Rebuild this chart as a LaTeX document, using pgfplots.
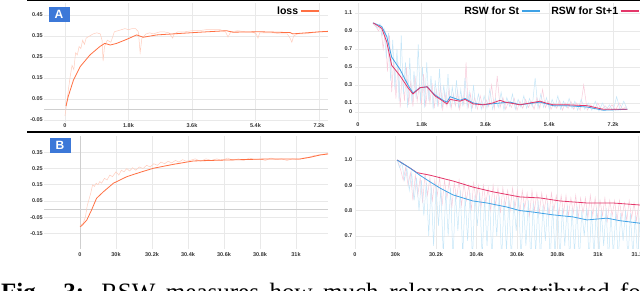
\documentclass[border=0pt]{standalone}
\usepackage{pgfplots}
\pgfplotsset{compat=1.18}
\usepackage{fontspec}
\setmainfont{Liberation Serif}
\setsansfont{Liberation Sans}
\definecolor{gridc}{HTML}{E9E9E9}
\definecolor{zeroc}{HTML}{CFCFCF}
\definecolor{tickc}{HTML}{333333}
\definecolor{orangeS}{HTML}{FF7043}
\definecolor{orangeR}{HTML}{FFCDBD}
\definecolor{blueS}{HTML}{3FA2E6}
\definecolor{blueR}{HTML}{C6E6F8}
\definecolor{redS}{HTML}{E4376A}
\definecolor{redR}{HTML}{F8CBDA}
\definecolor{badge}{HTML}{3C78D8}
\begin{document}
\begin{tikzpicture}[x=1pt,y=1pt]
\useasboundingbox (0,0) rectangle (640,291);
\pgfplotsset{
  tb/.style={scale only axis, anchor=south west,
    axis line style={draw=none}, tick style={draw=none},
    grid=major, major grid style={line width=0.6pt, color=gridc},
    ticklabel style={font=\sffamily\bfseries\fontsize{5.5}{6}\selectfont, text=tickc},
    yticklabel style={inner sep=1pt},
    xticklabel style={inner sep=1.5pt},
    legend plot pos=right,
    legend cell align=left,
    legend image code/.code={\draw[##1, line width=2.2pt] (0pt,0pt) -- (18pt,0pt);},
    legend style={draw=none, fill=none, inner sep=0pt, font=\sffamily\bfseries\fontsize{10.5}{12}\selectfont,
      nodes={inner sep=1.5pt}},
  }
}
% ---------- A ----------
\begin{axis}[tb, at={(44pt,169pt)}, width=284pt, height=119pt,
  xmin=-0.595, xmax=7.455, ymin=-0.0595, ymax=0.507,
  xtick={0,1.8,3.6,5.4,7.2}, xticklabels={0,1.8k,3.6k,5.4k,7.2k},
  ytick={-0.05,0.05,0.15,0.25,0.35,0.45}, yticklabels={-0.05,0.05,0.15,0.25,0.35,0.45},
  extra y ticks={0}, extra y tick labels={},
  extra y tick style={grid=major, major grid style={line width=1.2pt, color=zeroc}},
  legend style={at={(0.972,0.985)}, anchor=north east}]
\addplot[orangeR, line width=0.5pt, forget plot] coordinates {
(0.0,-0.03)(0.05,0.03)(0.1,0.10)(0.15,0.16)(0.2,0.21)(0.25,0.19)(0.3,0.27)(0.35,0.26)(0.4,0.30)(0.45,0.29)(0.5,0.33)(0.55,0.31)(0.6,0.34)(0.7,0.35)(0.8,0.36)(0.9,0.365)(1.0,0.36)(1.05,0.33)(1.08,0.23)(1.12,0.30)(1.2,0.33)(1.3,0.32)(1.4,0.37)(1.5,0.375)(1.6,0.38)(1.7,0.385)(1.8,0.38)(1.9,0.385)(2.0,0.385)(2.08,0.37)(2.13,0.27)(2.18,0.34)(2.3,0.36)(2.4,0.365)(2.5,0.36)(2.6,0.365)(2.7,0.37)(2.8,0.37)(2.95,0.365)(3.05,0.34)(3.1,0.36)(3.2,0.37)(3.4,0.37)(3.6,0.375)(3.8,0.375)(4.0,0.38)(4.2,0.38)(4.4,0.38)(4.55,0.37)(4.62,0.345)(4.7,0.37)(4.9,0.375)(5.1,0.37)(5.3,0.37)(5.42,0.36)(5.47,0.34)(5.52,0.365)(5.7,0.365)(5.9,0.365)(6.1,0.36)(6.3,0.36)(6.38,0.34)(6.43,0.32)(6.48,0.35)(6.6,0.36)(6.8,0.36)(7.0,0.365)(7.2,0.37)(7.45,0.37)};
\addplot[orangeS, line width=0.8pt] coordinates {
(0.03,0.017)(0.09,0.061)(0.24,0.14)(0.43,0.204)(0.71,0.26)(0.99,0.30)(1.13,0.315)(1.28,0.307)(1.47,0.315)(1.75,0.334)(2.03,0.355)(2.22,0.344)(2.60,0.355)(3.35,0.363)(3.83,0.368)(4.58,0.375)(4.76,0.368)(5.53,0.37)(6.38,0.366)(6.46,0.36)(7.23,0.37)(7.45,0.372)};
\addlegendentry{loss}
\end{axis}
% ---------- top right ----------
\begin{axis}[tb, at={(355pt,170pt)}, width=285pt, height=118pt,
  xmin=-0.085, xmax=7.96, ymin=-0.1, ymax=1.211,
  xtick={0,1.8,3.6,5.4,7.2}, xticklabels={0,1.8k,3.6k,5.4k,7.2k},
  ytick={0,0.1,0.3,0.5,0.7,0.9,1.1}, yticklabels={0,0.1,0.3,0.5,0.7,0.9,1.1},
  yticklabel style={inner sep=2.5pt},
  legend columns=2,
  legend style={at={(1,0.985)}, anchor=north east, /tikz/every even column/.append style={column sep=9pt}}]
\addplot[redR, line width=0.5pt, forget plot] coordinates {
(0.42,0.98)(0.50,0.95)(0.58,0.90)(0.64,0.96)(0.71,0.70)(0.77,0.90)(0.83,0.45)(0.89,0.85)(0.95,0.22)(1.01,0.60)(1.07,0.15)(1.13,0.55)(1.19,0.05)(1.25,0.45)(1.31,0.12)(1.37,0.50)(1.43,0.08)(1.49,0.35)(1.55,0.06)(1.61,0.40)(1.67,0.12)(1.73,0.30)(1.79,0.08)(1.85,0.42)(1.91,0.06)(1.97,0.30)(2.03,0.10)(2.09,0.32)(2.15,0.04)(2.21,0.25)(2.27,0.08)(2.33,0.30)(2.39,0.03)(2.45,0.22)(2.51,0.06)(2.57,0.26)(2.63,0.04)(2.69,0.20)(2.75,0.07)(2.81,0.24)(2.87,0.03)(2.93,0.18)(2.99,0.08)(3.05,0.55)(3.11,0.04)(3.17,0.20)(3.23,0.05)(3.29,0.16)(3.37,0.03)(3.45,0.18)(3.53,0.04)(3.61,0.14)(3.69,0.06)(3.77,0.30)(3.85,0.04)(3.93,0.40)(4.01,0.05)(4.09,0.16)(4.17,0.03)(4.25,0.12)(4.33,0.05)(4.41,0.15)(4.49,0.02)(4.57,0.12)(4.65,0.04)(4.73,0.14)(4.81,0.05)(4.89,0.12)(4.97,0.03)(5.05,0.16)(5.13,0.04)(5.21,0.25)(5.29,0.05)(5.37,0.12)(5.45,0.03)(5.53,0.10)(5.61,0.04)(5.69,0.13)(5.77,0.02)(5.85,0.10)(5.93,0.04)(6.01,0.12)(6.09,0.03)(6.17,0.10)(6.27,0.02)(6.37,0.30)(6.47,0.02)(6.57,0.08)(6.67,0.03)(6.77,0.10)(6.87,0.02)(6.97,0.07)(7.07,0.03)(7.17,0.08)(7.27,0.02)(7.37,0.10)(7.47,0.03)(7.57,0.06)};
\addplot[blueR, line width=0.5pt, forget plot] coordinates {
(0.40,0.99)(0.48,0.97)(0.56,0.93)(0.62,0.98)(0.68,0.85)(0.74,0.92)(0.80,0.60)(0.86,0.88)(0.92,0.35)(0.98,0.80)(1.04,0.25)(1.10,0.70)(1.16,0.12)(1.22,0.85)(1.28,0.20)(1.34,0.55)(1.40,0.05)(1.46,0.60)(1.52,0.10)(1.58,0.45)(1.64,0.15)(1.70,0.75)(1.76,0.10)(1.82,0.50)(1.88,0.05)(1.94,0.55)(2.00,0.12)(2.06,0.40)(2.12,0.03)(2.18,0.35)(2.24,0.06)(2.30,0.48)(2.36,0.04)(2.42,0.30)(2.48,0.08)(2.54,0.42)(2.60,0.05)(2.66,0.28)(2.72,0.10)(2.78,0.35)(2.84,0.04)(2.90,0.25)(2.96,0.06)(3.02,0.38)(3.08,0.05)(3.14,0.22)(3.20,0.02)(3.26,0.30)(3.32,0.05)(3.40,0.20)(3.48,0.03)(3.56,0.18)(3.64,0.04)(3.72,0.25)(3.80,0.03)(3.88,0.15)(3.96,0.05)(4.04,0.22)(4.12,0.02)(4.20,0.16)(4.28,0.06)(4.36,0.20)(4.44,0.03)(4.52,0.14)(4.60,0.05)(4.68,0.18)(4.76,0.04)(4.84,0.15)(4.92,0.06)(5.00,0.38)(5.08,0.04)(5.16,0.20)(5.24,0.05)(5.32,0.16)(5.40,0.03)(5.48,0.14)(5.56,0.05)(5.64,0.18)(5.72,0.03)(5.80,0.12)(5.88,0.05)(5.96,0.15)(6.04,0.04)(6.12,0.12)(6.20,0.02)(6.30,0.14)(6.40,0.03)(6.50,0.10)(6.60,0.02)(6.70,0.12)(6.80,0.01)(6.90,0.10)(7.00,0.02)(7.10,0.08)(7.20,0.01)(7.30,0.17)(7.40,0.02)(7.50,0.12)(7.60,0.03)};
\addplot[blueS, line width=0.8pt] coordinates {
(0.43,0.99)(0.67,0.95)(0.81,0.84)(0.95,0.61)(1.19,0.47)(1.41,0.30)(1.55,0.21)(1.75,0.27)(1.95,0.28)(2.17,0.19)(2.40,0.13)(2.51,0.11)(2.60,0.17)(2.88,0.13)(3.02,0.15)(3.25,0.10)(3.53,0.08)(4.01,0.10)(4.29,0.11)(4.57,0.08)(5.14,0.11)(5.51,0.07)(5.90,0.07)(6.47,0.055)(6.92,0.02)(7.60,0.03)};
\addlegendentry{RSW for St}
\addplot[redS, line width=0.8pt] coordinates {
(0.43,0.99)(0.67,0.93)(0.81,0.78)(0.95,0.52)(1.05,0.47)(1.19,0.40)(1.41,0.27)(1.55,0.20)(1.75,0.27)(1.95,0.28)(2.17,0.18)(2.40,0.12)(2.51,0.09)(2.60,0.14)(2.88,0.12)(3.02,0.14)(3.25,0.09)(3.53,0.08)(3.80,0.10)(4.01,0.13)(4.15,0.11)(4.29,0.10)(4.57,0.08)(5.14,0.12)(5.30,0.10)(5.51,0.08)(5.90,0.08)(6.47,0.07)(6.92,0.03)(7.60,0.03)};
\addlegendentry{RSW for St+1}
\end{axis}
% ---------- B ----------
\begin{axis}[tb, at={(44pt,42pt)}, width=284pt, height=113pt,
  xmin=-1.0, xmax=6.889, ymin=-0.246, ymax=0.451,
  xtick={0,1,2,3,4,5,6}, xticklabels={0,30k,30.2k,30.4k,30.6k,30.8k,31k},
  xticklabel style={inner sep=3pt},
  ytick={-0.15,-0.05,0.05,0.15,0.25,0.35}, yticklabels={-0.15,-0.05,0.05,0.15,0.25,0.35},
  extra y ticks={0}, extra y tick labels={},
  extra y tick style={grid=major, major grid style={line width=1.2pt, color=zeroc}},
  extra x ticks={0}, extra x tick labels={},
  extra x tick style={grid=major, major grid style={line width=1.0pt, color=zeroc}}]
\addplot[orangeR, line width=0.5pt] coordinates {
(0.0,-0.10)(0.08,-0.09)(0.15,-0.05)(0.2,0.02)(0.25,0.06)(0.3,0.10)(0.35,0.15)(0.4,0.14)(0.45,0.16)(0.5,0.15)(0.55,0.17)(0.6,0.16)(0.68,0.19)(0.75,0.18)(0.83,0.21)(0.9,0.20)(1.0,0.23)(1.08,0.21)(1.15,0.24)(1.22,0.23)(1.3,0.25)(1.38,0.235)(1.46,0.255)(1.55,0.24)(1.65,0.26)(1.75,0.25)(1.85,0.27)(1.95,0.26)(2.05,0.28)(2.15,0.27)(2.25,0.29)(2.35,0.28)(2.45,0.295)(2.55,0.285)(2.65,0.30)(2.75,0.29)(2.85,0.305)(2.95,0.295)(3.05,0.30)(3.2,0.31)(3.35,0.295)(3.5,0.31)(3.65,0.30)(3.8,0.31)(3.95,0.30)(4.1,0.315)(4.25,0.30)(4.4,0.31)(4.55,0.30)(4.7,0.315)(4.85,0.305)(5.0,0.31)(5.15,0.30)(5.3,0.315)(5.45,0.305)(5.6,0.31)(5.75,0.30)(5.9,0.31)(6.05,0.305)(6.2,0.315)(6.35,0.32)(6.5,0.33)(6.65,0.335)(6.8,0.34)(6.89,0.345)};
\addplot[orangeS, line width=0.8pt] coordinates {
(0.0,-0.108)(0.05,-0.102)(0.19,-0.067)(0.32,-0.006)(0.46,0.067)(0.65,0.107)(0.93,0.16)(1.30,0.20)(1.67,0.227)(2.04,0.252)(2.59,0.276)(3.15,0.297)(4.07,0.303)(5.19,0.309)(6.11,0.309)(6.40,0.32)(6.67,0.334)(6.89,0.34)};
\end{axis}
% ---------- bottom right ----------
\begin{axis}[tb, at={(355pt,42pt)}, width=285pt, height=113pt,
  xmin=0, xmax=7.037, ymin=0.648, ymax=1.095,
  xtick={0,1,2,3,4,5,6,7}, xticklabels={0,30k,30.2k,30.4k,30.6k,30.8k,31k,31.2k},
  xticklabel style={inner sep=3pt},
  ytick={0.7,0.8,0.9,1.0}, yticklabels={0.7,0.8,0.9,1.0},
  yticklabel style={inner sep=2.5pt}]
\addplot[redR, line width=0.5pt] coordinates {
(1.07,0.99)(1.13,0.96)(1.19,0.92)(1.25,0.97)(1.31,0.90)(1.37,0.95)(1.43,0.84)(1.49,0.94)(1.55,0.86)(1.61,0.93)(1.67,0.83)(1.73,0.95)(1.79,0.86)(1.85,0.93)(1.91,0.84)(1.97,0.92)(2.03,0.86)(2.09,0.93)(2.15,0.82)(2.21,0.92)(2.27,0.85)(2.33,0.92)(2.39,0.81)(2.45,0.91)(2.51,0.85)(2.57,0.92)(2.63,0.82)(2.69,0.91)(2.75,0.84)(2.81,0.90)(2.87,0.80)(2.93,0.91)(2.99,0.84)(3.05,0.90)(3.11,0.81)(3.17,0.90)(3.23,0.83)(3.29,0.89)(3.35,0.80)(3.41,0.90)(3.47,0.82)(3.53,0.89)(3.59,0.79)(3.65,0.89)(3.71,0.82)(3.77,0.88)(3.83,0.80)(3.89,0.89)(3.95,0.81)(4.01,0.88)(4.07,0.79)(4.13,0.88)(4.19,0.81)(4.25,0.87)(4.31,0.78)(4.37,0.88)(4.43,0.80)(4.49,0.87)(4.55,0.79)(4.61,0.87)(4.67,0.80)(4.73,0.86)(4.79,0.78)(4.85,0.87)(4.91,0.80)(4.97,0.86)(5.03,0.78)(5.09,0.86)(5.15,0.79)(5.21,0.86)(5.27,0.78)(5.33,0.85)(5.39,0.79)(5.45,0.86)(5.51,0.77)(5.57,0.85)(5.63,0.79)(5.69,0.85)(5.75,0.77)(5.81,0.86)(5.87,0.78)(5.93,0.85)(5.99,0.77)(6.05,0.84)(6.11,0.78)(6.17,0.85)(6.23,0.76)(6.29,0.84)(6.35,0.78)(6.41,0.84)(6.47,0.76)(6.53,0.84)(6.59,0.77)(6.65,0.83)(6.71,0.76)(6.77,0.84)(6.83,0.77)(6.89,0.83)(6.95,0.76)(7.01,0.83)};
\addplot[blueR, line width=0.5pt] coordinates {
(1.04,1.00)(1.10,0.97)(1.16,0.99)(1.22,0.92)(1.28,0.97)(1.34,0.88)(1.40,0.95)(1.46,0.84)(1.52,0.93)(1.58,0.80)(1.64,0.92)(1.70,0.78)(1.76,0.91)(1.82,0.70)(1.88,0.90)(1.94,0.66)(2.00,0.90)(2.06,0.74)(2.12,0.89)(2.18,0.62)(2.24,0.88)(2.30,0.70)(2.36,0.89)(2.42,0.60)(2.48,0.87)(2.54,0.72)(2.60,0.88)(2.66,0.62)(2.72,0.86)(2.78,0.68)(2.84,0.87)(2.90,0.60)(2.96,0.86)(3.02,0.74)(3.08,0.87)(3.14,0.61)(3.20,0.85)(3.26,0.66)(3.32,0.86)(3.38,0.60)(3.44,0.85)(3.50,0.70)(3.56,0.86)(3.62,0.60)(3.68,0.84)(3.74,0.64)(3.80,0.85)(3.86,0.60)(3.92,0.84)(3.98,0.72)(4.04,0.85)(4.10,0.60)(4.16,0.83)(4.22,0.66)(4.28,0.84)(4.34,0.60)(4.40,0.83)(4.46,0.63)(4.52,0.84)(4.58,0.60)(4.64,0.82)(4.70,0.68)(4.76,0.83)(4.82,0.60)(4.88,0.82)(4.94,0.62)(5.00,0.83)(5.06,0.60)(5.12,0.81)(5.18,0.66)(5.24,0.82)(5.30,0.60)(5.36,0.81)(5.42,0.63)(5.48,0.82)(5.54,0.60)(5.60,0.80)(5.66,0.70)(5.72,0.81)(5.78,0.60)(5.84,0.80)(5.90,0.62)(5.96,0.81)(6.02,0.60)(6.08,0.80)(6.14,0.66)(6.20,0.81)(6.26,0.60)(6.32,0.79)(6.38,0.62)(6.44,0.80)(6.50,0.60)(6.56,0.79)(6.62,0.68)(6.68,0.80)(6.74,0.60)(6.80,0.79)(6.86,0.62)(6.92,0.78)(6.98,0.60)(7.04,0.78)};
\addplot[redS, line width=0.8pt] coordinates {
(1.04,1.0)(1.36,0.968)(1.53,0.95)(1.85,0.94)(2.42,0.917)(2.91,0.893)(3.41,0.874)(4.07,0.854)(4.57,0.85)(5.06,0.838)(5.73,0.83)(6.37,0.83)(7.04,0.822)};
\addplot[blueS, line width=0.8pt] coordinates {
(1.04,1.0)(1.36,0.968)(1.60,0.94)(1.85,0.914)(2.10,0.889)(2.42,0.862)(2.91,0.838)(3.26,0.83)(3.75,0.814)(4.07,0.80)(4.40,0.794)(4.89,0.783)(5.38,0.775)(5.73,0.763)(6.22,0.77)(6.54,0.76)(7.04,0.75)};
\end{axis}
% ---------- decorations ----------
\draw[line width=1.5pt] (27,290.3) -- (640,290.3);
\draw[line width=1.5pt] (27,159) -- (640,159);
\node[fill=badge, text=white, font=\sffamily\bfseries\fontsize{12}{12}\selectfont, minimum width=21pt, minimum height=14.5pt, inner sep=0pt] at (59,276.5) {A};
\node[fill=badge, text=white, font=\sffamily\bfseries\fontsize{12}{12}\selectfont, minimum width=21pt, minimum height=14.5pt, inner sep=0pt] at (60,145.5) {B};
\node[anchor=base west, inner sep=0pt, font=\fontsize{25}{25}\selectfont] at (1,-9.5) {\makebox[648pt][s]{\textbf{Fig. 3:} RSW measures how much relevance contributed for}};
\end{tikzpicture}
\end{document}
